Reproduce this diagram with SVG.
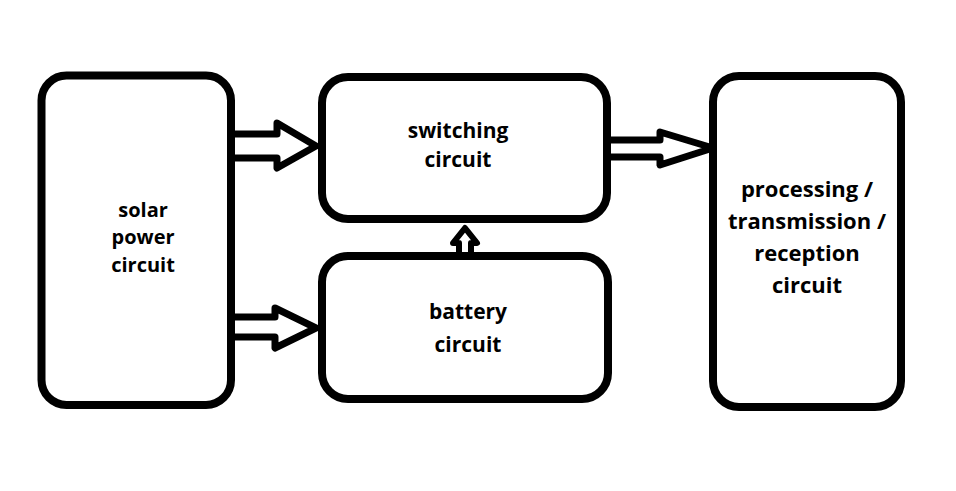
<svg xmlns="http://www.w3.org/2000/svg" width="956" height="491" viewBox="0 0 956 491">
<style>
.box{fill:#fff;stroke:#000;stroke-width:8}
.arr{fill:#fff;stroke:#000;stroke-width:7;stroke-linejoin:round}
.t{font-family:"Open Sans","Liberation Sans",sans-serif;font-weight:bold;fill:#000;text-anchor:middle}
</style>
<rect width="956" height="491" fill="#fff"/>
<g id="connectors">
<path class="arr" d="M231 134 H277 V123 L316 146 L277 168 V158 H231"/>
<path class="arr" d="M231 317 H275 V308 L316 328 L275 348 V337 H231"/>
<path class="arr" d="M607 140 H660 V132 L713 148 L660 165 V157 H607"/>
<path class="arr" style="stroke-width:6" d="M459 256 V243 H453 L465 228 L477 243 H471 V256"/>
</g>
<g id="solar">
<rect class="box" x="41.5" y="75.5" width="189.5" height="329.5" rx="25"/>
<text class="t" style="font-size:20px" x="143" y="217">solar</text>
<text class="t" style="font-size:20px" x="143" y="244">power</text>
<text class="t" style="font-size:20px" x="143" y="272">circuit</text>
</g>
<g id="switching">
<rect class="box" x="322" y="77" width="285" height="142" rx="26"/>
<text class="t" style="font-size:21px" x="458" y="138">switching</text>
<text class="t" style="font-size:21px" x="458" y="167">circuit</text>
</g>
<g id="battery">
<rect class="box" x="322" y="256" width="286" height="143" rx="26"/>
<text class="t" style="font-size:21px" x="468" y="319">battery</text>
<text class="t" style="font-size:21px" x="468" y="352">circuit</text>
</g>
<g id="processing">
<rect class="box" x="713" y="76" width="188" height="331" rx="26"/>
<text class="t" style="font-size:22px" x="807" y="197">processing /</text>
<text class="t" style="font-size:22px" x="807" y="229">transmission /</text>
<text class="t" style="font-size:22px" x="807" y="261">reception</text>
<text class="t" style="font-size:22px" x="807" y="293">circuit</text>
</g>
</svg>
